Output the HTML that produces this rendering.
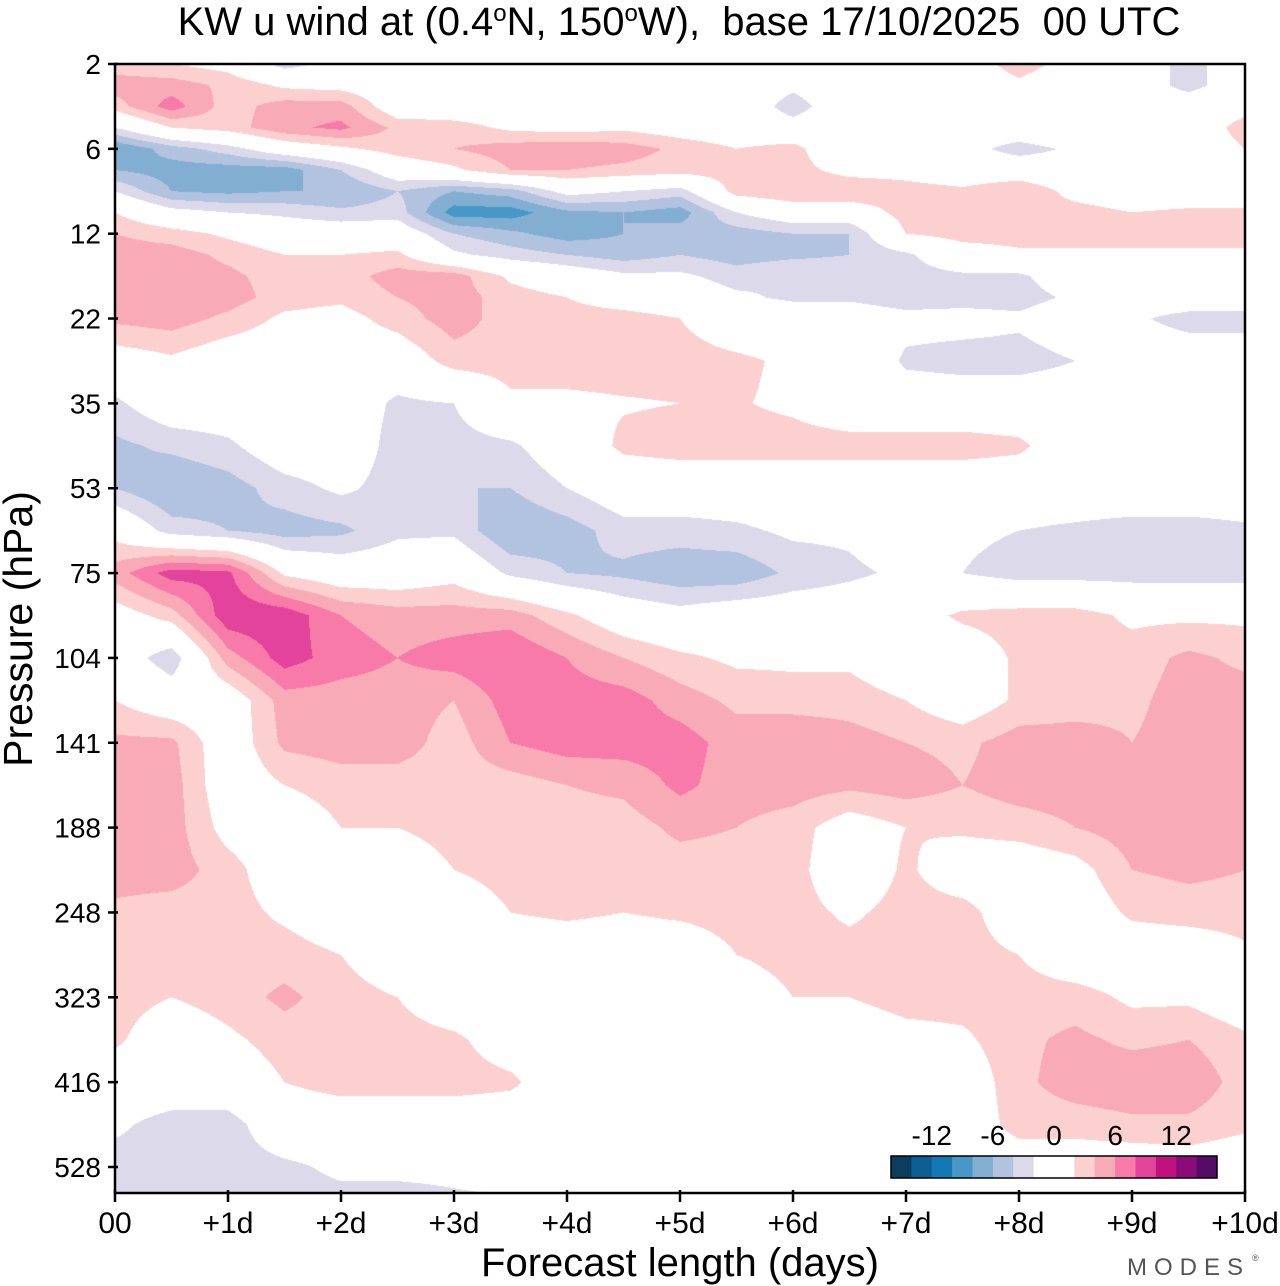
<!DOCTYPE html>
<html><head><meta charset="utf-8">
<style>
html,body{margin:0;padding:0;background:#fff;}
#wrap{position:relative;width:1280px;height:1286px;overflow:hidden;font-family:"Liberation Sans",sans-serif;}
#plot{position:absolute;left:115px;top:64px;}
svg{position:absolute;left:0;top:0;}
</style></head>
<body>
<div id="wrap">
<canvas id="plot" width="1130" height="1129"></canvas>
<svg id="ov" width="1280" height="1286">
  <text x="679" y="35" font-size="40" text-anchor="middle" xml:space="preserve" style="white-space:pre" font-family="Liberation Sans, sans-serif">KW u wind at (0.4<tspan dy="-14" font-size="24">o</tspan><tspan dy="14">N, 150</tspan><tspan dy="-14" font-size="24">o</tspan><tspan dy="14">W),  base 17/10/2025  00 UTC</tspan></text>
  <text x="680" y="1276" font-size="40" text-anchor="middle" font-family="Liberation Sans, sans-serif">Forecast length (days)</text>
  <text transform="translate(32,629) rotate(-90)" font-size="41" text-anchor="middle" font-family="Liberation Sans, sans-serif">Pressure (hPa)</text>
  <text x="1250" y="1275" font-size="24" fill="#555" text-anchor="end" letter-spacing="7" font-family="Liberation Sans, sans-serif">MODES</text>
  <text x="1252" y="1261" font-size="9" fill="#555">®</text>
  <g id="axes"></g>
  <g id="cbar"></g>
</svg>
</div>
<script>
const forecastDays = [0,0.5,1,1.5,2,2.5,3,3.5,4,4.5,5,5.5,6,6.5,7,7.5,8,8.5,9,9.5,10];
const levelIndex = [0,0.25,0.5,0.75,1,1.25,1.5,1.75,2,2.25,2.5,2.75,3,3.5,4,4.5,5,5.5,6,6.5,7,7.5,8,8.5,9,9.5,10,10.5,11,11.5,12,12.5,13,13.5];
const yTickLabels = ['2','6','12','22','35','53','75','104','141','188','248','323','416','528'];
const xTickLabels = ['00','+1d','+2d','+3d','+4d','+5d','+6d','+7d','+8d','+9d','+10d'];
const cbarLevels = [-16,-14,-12,-10,-8,-6,-4,-2,0,2,4,6,8,10,12,14,16];
const cbarLabels = [-12,-6,0,6,12];
const cbarColors = ['#0b3d5c','#0d5e94','#1478b4','#4798c6','#82aed2','#b2c3df','#dcdaea','#ffffff','#ffffff','#fbd0cf','#f9aab7','#f77aa8','#e3449b','#bf1280','#8a0c78','#540b6a'];
// u wind (m/s) at each forecast step, listed by level (top to bottom)
const step00 = [3,5,3,-2,-8,-6,-2,2,4,5,5,5,4.5,0.5,-2.5,-4.5,-4,1,5,0.5,0,2,4.5,5,5,5,3.5,3,3,2.5,0,-1.5,-3,-3];
const step01 = [2,5,7,2,-5,-7,-6,-1,3,5,5,5,5,1.5,0,-3.5,-6,-3,9,3,-3.5,0,4.5,5,5,5,3,3,2,0,0,-3,-3,-3];
const step02 = [1,3.5,3,3,-3,-7,-6.5,-2,1.5,3.5,4.5,5,3.5,0,0,-2.5,-5,-4,8.5,9.5,5,0,0,0,1,3,3,3,3,1.5,0,-3,-3,-3];
const step03 = [-3,1.5,5,5.5,0,-7,-6,-2.5,0,2,3,3,1.5,0,0,0,-3,-5,1.5,9.5,9,5,4.5,2,0,0,1.5,3,4.5,3,2,0,-2.5,-3];
const step04 = [-1,1,5,6.5,1.5,-4,-6,-3.5,0,2,3,2.5,1,0,0,0,-1.5,-4.5,0,6,7,5,5,3,2,0,0,2,3,3,3,0,-1.5,-3];
const step05 = [0,0,0,3.5,3,0,-4,-3,0,2.5,5,4,3,0,-2.5,-3,-3,-2.5,0,5,6,5,5,3,2,0,0,0,2,3,3,0,-1.5,-3];
const step06 = [0,0,0,3,4,1.5,-6,-9,-4,-1.5,5,5,5,3,-2,-3,-4,-2.5,1,5,7,4,3,3,3,2,0,0,0,2.5,3,0,-1.5,-2.5];
const step07 = [0,0,0,1.5,5,4,-5,-9,-5.5,-3,1.5,3,3,3,1.5,-2.5,-4,-6,-2.5,5,8,7,6,3,3,3,2,0,0,0.5,2.5,0,-1,-2.5];
const step08 = [0,0,0,1,5.5,4,-1,-6.5,-7,-4,0,2,3,3,1.5,0,-2,-5,-4,2.5,6,7,7,4,3,3,2.5,0,0,0,0,0,0,0];
const step09 = [0,0,0,1.5,5,3.5,-2,-6,-6,-5,-1.5,0.5,3,3,1.8,2.5,0,-3,-4.5,0,4,7,7,4.5,3,3,2,0,0,0,0,0,0,0];
const step10 = [0,0,0,0.5,3.5,3,-3,-7,-5,-4,-1.5,0,2,3,2,3,0,-3,-5.5,-1,2.5,5,7,6.5,4.5,3,2.5,0,0,0,0,0,0,0];
const step11 = [0,0,0,0,2,3,3,-2,-5,-5,-3,-1.5,0,2.5,2.2,3,0,-2.5,-5.5,0,1.5,3.5,5,5,4,3,3,2,0,0,0,0,0,0];
const step12 = [1,-1.5,-3,-1,3,3,4,0,-4,-4.5,-2,-2.5,0,1.5,1.5,3,0,-1.5,-3.5,0,1.5,3,6,5,3,3,3,3,2,0,0,0,0,0];
const step13 = [0,0,0,0,-1.5,1,4,0,-4,-4,-2.5,-2.5,0,1.5,0,3,0,-1.5,-2.5,0,1.5,3,5,4.5,0.5,-0.5,1.5,3,2,0,0,0,0,0];
const step14 = [0,0,0,0,0,1,3,3,2,-2.5,-3,-3.5,-1,-2.5,0,3,0,0,-1.5,0.5,0,2,4,5,2,2.5,3,3,3,1,0,0,0,0];
const step15 = [0.5,0,0,0,-1,0,2.5,3,3,0.5,-2.5,-3,-1,-3,0,3,0,-1.5,-2,2.5,0,0,3.5,4,2.5,0,3,3,3,1.5,0,0,0.5,0];
const step16 = [3,1.5,0,0,-3,0,4,3,3,1.5,-2.5,-3,-1.5,-3,0,2.5,0,-2,-3,3,2.5,2.5,5,5,3,0,0,2,3,3.5,3.5,3,0,-1];
const step17 = [1,0,0,1,-1.5,-0.5,1,3,3,1.5,0,-1.5,0,-2,0,0,0,-2.5,-3,3,3,3,5,5,4,1,0,0,3,4.5,5,3,0,-2.5];
const step18 = [0,0,0,1,0,0,0,2,3,1.5,0,0,-1.5,0,0,0,0,-3,-3,1.5,3,3.5,4,5,5,4,2.5,0,1.5,3.5,5.5,3.5,0,-2.5];
const step19 = [-3,-3,0,0,0,0,0,2.5,3,1.5,0,0,-3,0,0,0,0,-3,-3,1.5,4.5,5,5,5,5,4.5,3,0,1.5,4,5.5,3.5,0.5,-1.5];
const step20 = [0,0,1,3,2,0,0,2.5,3,1.5,0,0,-3,0,0,0,0,-2.5,-3,1.5,3.5,5,5,5,5,4,3,1.5,0,2.5,3,2.5,0,-2];
const steps = [step00,step01,step02,step03,step04,step05,step06,step07,step08,step09,step10,step11,step12,step13,step14,step15,step16,step17,step18,step19,step20];

const X0=115, X1=1245, Y0=64, Y1=1193, DAYPX=(X1-X0)/10, TICKPX=(1167-64)/13;
function xScale(d){return X0 + d*DAYPX;}
function yScale(li){return Y0 + li*TICKPX;}
function hexToRgb(h){return [parseInt(h.substr(1,2),16),parseInt(h.substr(3,2),16),parseInt(h.substr(5,2),16)];}
const rgbs = cbarColors.map(hexToRgb);
function colorIndex(v){
  for(let i=0;i<cbarLevels.length-1;i++){ if(v<cbarLevels[i+1]) return i; }
  return cbarLevels.length-2;
}
function fieldValue(d, li){
  let i=0; while(i<forecastDays.length-2 && d>forecastDays[i+1]) i++;
  let fx=(d-forecastDays[i])/(forecastDays[i+1]-forecastDays[i]); fx=Math.max(0,Math.min(1,fx));
  let k=0; while(k<levelIndex.length-2 && li>levelIndex[k+1]) k++;
  let fy=(li-levelIndex[k])/(levelIndex[k+1]-levelIndex[k]); fy=Math.max(0,Math.min(1,fy));
  const a=steps[i][k], b=steps[i+1][k], c=steps[i][k+1], e=steps[i+1][k+1];
  return (a*(1-fx)+b*fx)*(1-fy)+(c*(1-fx)+e*fx)*fy;
}
(function draw(){
  const cv=document.getElementById('plot'); const ctx=cv.getContext('2d');
  const W=cv.width,H=cv.height; const img=ctx.createImageData(W,H); const dt=img.data;
  for(let py=0;py<H;py++){
    const li=(py+0.5)/TICKPX;
    for(let px=0;px<W;px++){
      const d=(px+0.5)/DAYPX;
      const c=rgbs[colorIndex(fieldValue(d,li))];
      const o=(py*W+px)*4; dt[o]=c[0];dt[o+1]=c[1];dt[o+2]=c[2];dt[o+3]=255;
    }
  }
  ctx.putImageData(img,0,0);
})();
(function axes(){
  const NS='http://www.w3.org/2000/svg'; const g=document.getElementById('axes');
  function mk(t,attrs){const e=document.createElementNS(NS,t);for(const k in attrs)e.setAttribute(k,attrs[k]);return e;}
  const frame=mk('rect',{x:X0,y:Y0,width:X1-X0,height:Y1-Y0,fill:'none',stroke:'#000','stroke-width':2.5});
  
  
  g.appendChild(frame);
  yTickLabels.forEach((lab,i)=>{
    const y=yScale(i);
    const t=mk('line',{x1:X0-7,x2:X0+3,y1:y,y2:y,stroke:'#000','stroke-width':2.5});
    
    
    g.appendChild(t);
    const tx=mk('text',{x:X0-14,y:y+10,'font-size':28,'text-anchor':'end','font-family':'Liberation Sans, sans-serif'});
    tx.textContent=lab;
    
    
    g.appendChild(tx);
  });
  xTickLabels.forEach((lab,i)=>{
    const x=xScale(i);
    const t=mk('line',{x1:x,x2:x,y1:Y1-3,y2:Y1+9,stroke:'#000','stroke-width':2.5});
    
    
    g.appendChild(t);
    const tx=mk('text',{x:x,y:Y1+40,'font-size':30,'text-anchor':'middle','font-family':'Liberation Sans, sans-serif'});
    tx.textContent=lab;
    
    
    g.appendChild(tx);
  });
  const cb=document.getElementById('cbar');
  const CX0=891, CX1=1217, CY=1156, CH=22, sw=(CX1-CX0)/cbarColors.length;
  function cbx(v){return CX0+(v-cbarLevels[0])/(cbarLevels[cbarLevels.length-1]-cbarLevels[0])*(CX1-CX0);}
  cbarColors.forEach((c,i)=>{
    const r=mk('rect',{x:cbx(cbarLevels[i]),y:CY,width:sw+0.5,height:CH,fill:c});
    
    
    cb.appendChild(r);
  });
  const br=mk('rect',{x:CX0,y:CY,width:CX1-CX0,height:CH,fill:'none',stroke:'#000','stroke-width':1.5});
  
  
  cb.appendChild(br);
  cbarLabels.forEach(v=>{
    const tx=mk('text',{x:cbx(v),y:CY-11,'font-size':28,'text-anchor':'middle','font-family':'Liberation Sans, sans-serif'});
    tx.textContent=String(v);
    
    
    cb.appendChild(tx);
  });
})();
</script>
</body></html>
